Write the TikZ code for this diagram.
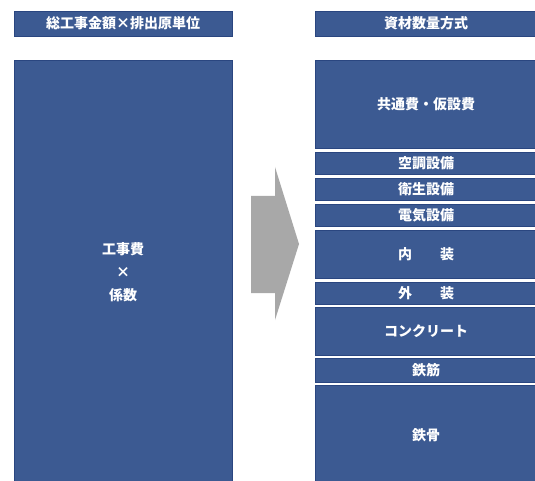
\documentclass[tikz,border=0pt]{standalone}
\usepackage{fontspec}
\setmainfont{Noto Sans CJK JP}
\definecolor{boxblue}{RGB}{60,90,146}
\definecolor{edgeblue}{RGB}{42,70,128}
\definecolor{arrowgray}{RGB}{168,168,168}
\begin{document}
\begin{tikzpicture}[x=1pt, y=-1pt, font=\bfseries\fontsize{14}{23}\selectfont, every node/.style={draw=edgeblue, fill=boxblue, text=white, line width=0.8pt, outer sep=0pt, inner sep=0pt, anchor=north west, align=center}]
        \useasboundingbox[fill=white] (0,0) rectangle (535,481);
        % left column
        \node[minimum width=218pt, minimum height=25pt] (lhead) at (14,11) {総工事金額×排出原単位};
        \node[minimum width=218pt, minimum height=425pt] (lbody) at (14,60) {工事費\\×\\係数};

        % right column
        \node[minimum width=222pt, minimum height=25pt] (rhead) at (315,11) {資材数量方式};
        \node[minimum width=222pt, minimum height=88pt] (kyotsu) at (315,60) {共通費・仮設費};
        \node[minimum width=222pt, minimum height=22pt] (kucho) at (315,152) {空調設備};
        \node[minimum width=222pt, minimum height=22pt] (eisei) at (315,178) {衛生設備};
        \node[minimum width=222pt, minimum height=22pt] (denki) at (315,204) {電気設備};
        \node[minimum width=222pt, minimum height=48pt] (naiso) at (315,230) {内　　装};
        \node[minimum width=222pt, minimum height=22pt] (gaiso) at (315,282) {外　　装};
        \node[minimum width=222pt, minimum height=48pt] (concrete) at (315,307) {コンクリート};
        \node[minimum width=222pt, minimum height=24pt] (tekkin) at (315,358) {鉄筋};
        \node[minimum width=222pt, minimum height=100pt] (tekkotsu) at (315,385) {鉄骨};

        % arrow
        \fill[arrowgray] (251,196) -- (275,196) -- (275,167) -- (299,244) -- (275,320) -- (275,293) -- (251,293) -- cycle;
    \end{tikzpicture}
\end{document}
